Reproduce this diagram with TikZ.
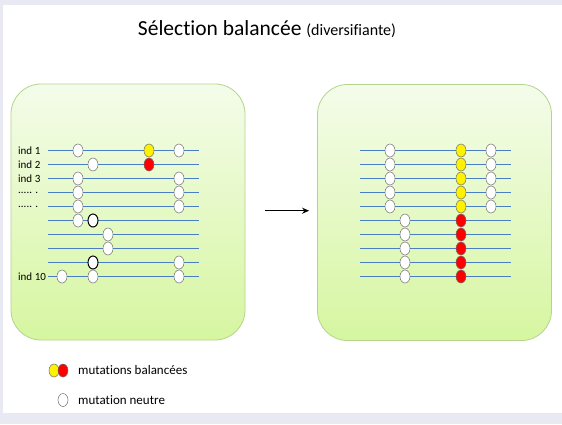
\documentclass[tikz,border=0pt]{standalone}
\usepackage{fontspec}
\setmainfont{Carlito}[Ligatures=NoCommon]
\usetikzlibrary{positioning,arrows.meta,shapes.geometric}
\definecolor{pagelav}{HTML}{E9E9F3}
\definecolor{boxtop}{HTML}{F4FCEA}
\definecolor{boxbot}{HTML}{D6F6A0}
\definecolor{boxedge}{HTML}{B4D48C}
\definecolor{lineblue}{HTML}{4A7EC4}
\definecolor{mutgrey}{HTML}{707070}

\begin{document}
\begin{tikzpicture}[
    x=1pt, y=-1pt,
    every node/.style={font=\fontsize{11}{13}\selectfont},
    panel/.style={rectangle, rounded corners=30pt, draw=boxedge, line width=0.8pt,
                  top color=boxtop, bottom color=boxbot,
                  minimum width=234pt, minimum height=256pt},
    mut/.style={ellipse, draw=mutgrey, line width=0.5pt, fill=#1,
                minimum width=10pt, minimum height=13pt, inner sep=0pt},
    mutw/.style={mut=white},
    muty/.style={mut=yellow},
    mutr/.style={mut=red},
    mutk/.style={mut=white, draw=black, line width=1pt},
    hline/.style={lineblue, line width=0.9pt},
    arrow/.style={-{Stealth[length=7pt, width=6pt]}, line width=1.3pt},
    indlabel/.style={anchor=west, inner sep=0pt},
    legtext/.style={anchor=west, inner sep=0pt, font=\fontsize{13}{15}\selectfont},
]

% Page
\useasboundingbox (0,0) rectangle (562,424);
\fill[pagelav] (0,0) rectangle (562,424);
\fill[white] (3,5) rectangle (562,413);

% Title
\node (title) at (267,29) {\fontsize{21.5}{25}\selectfont Sélection balancée
    \fontsize{16}{19}\selectfont (diversifiante)};

% Panels
\node[panel] (left) at (128,212) {};
\node[panel] (right) at (434.5,212.5) {};

% Lines
\foreach \r in {1,...,10} {
    \coordinate (la\r) at (48,{150.5+14*(\r-1)});
    \coordinate (lb\r) at (199,{150.5+14*(\r-1)});
    \coordinate (ra\r) at (360,{150.5+14*(\r-1)});
    \coordinate (rb\r) at (511,{150.5+14*(\r-1)});
    \draw[hline] (la\r) -- (lb\r);
    \draw[hline] (ra\r) -- (rb\r);
}

% Mutations before selection
\foreach \r/\x/\s in {1/78/mutw, 1/149/muty, 1/179/mutw, 2/93/mutw, 2/149/mutr,
    3/78/mutw, 3/179/mutw, 4/78/mutw, 4/179/mutw, 5/78/mutw, 5/179/mutw,
    6/78/mutw, 6/93/mutk, 7/108/mutw, 8/108/mutw, 9/93/mutk, 9/179/mutw,
    10/62/mutw, 10/93/mutw, 10/179/mutw}
    \node[\s] (L\r-\x) at (\x,{150.5+14*(\r-1)}) {};

% Mutations after selection
\foreach \r in {1,...,5} {
    \node[mutw] (R\r-a) at (390,{150.5+14*(\r-1)}) {};
    \node[muty] (R\r-b) at (461,{150.5+14*(\r-1)}) {};
    \node[mutw] (R\r-c) at (491,{150.5+14*(\r-1)}) {};
}
\foreach \r in {6,...,10} {
    \node[mutw] (R\r-a) at (405,{150.5+14*(\r-1)}) {};
    \node[mutr] (R\r-b) at (461,{150.5+14*(\r-1)}) {};
}

% Individuals
\node[indlabel] (ind1) at (18,150.5) {ind 1};
\node[indlabel] (ind2) at (18,164.5) {ind 2};
\node[indlabel] (ind3) at (18,178.5) {ind 3};
\node[indlabel] (dots1) at (18,192.5) {..... .};
\node[indlabel] (dots2) at (18,206.5) {..... .};
\node[indlabel] (ind10) at (18,276.5) {ind 10};

% Selection arrow
\draw[arrow, shorten <=20pt, shorten >=8pt] (left.east |- 0,210.7) -- (right.west |- 0,210.7);

% Legend
\node[muty] (legy) at (54,370.5) {};
\node[mutr] (legr) at (63,370.5) {};
\node[mutw] (legw) at (63,400) {};
\node[legtext] (legbal) at (78,370.5) {mutations balancées};
\node[legtext] (legneu) at (78,400) {mutation neutre};

\end{tikzpicture}
\end{document}
